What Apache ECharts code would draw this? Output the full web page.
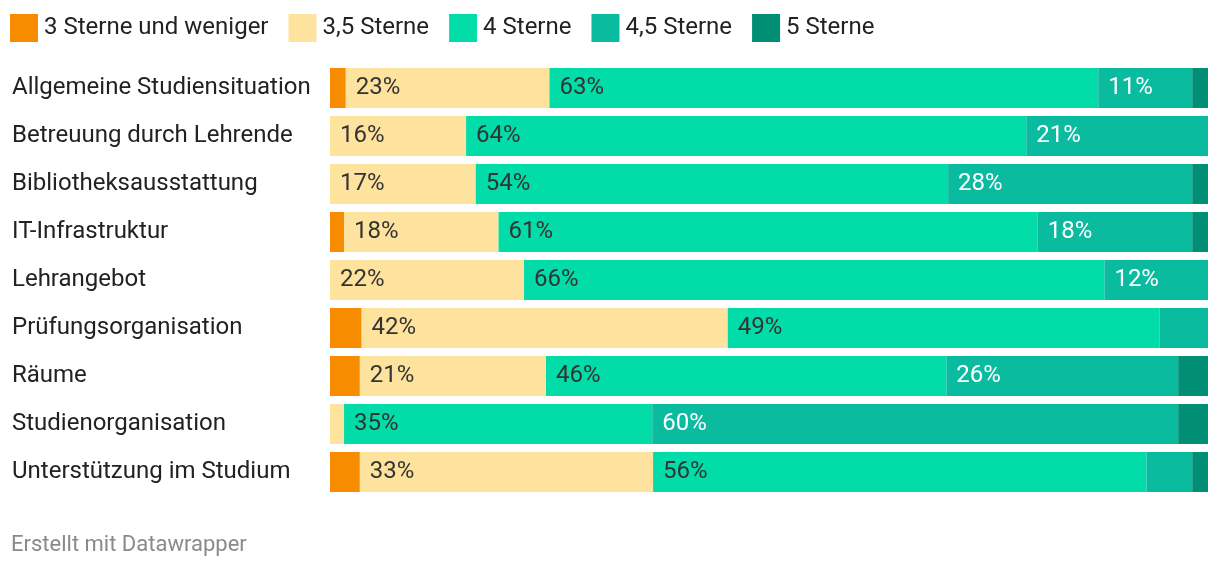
<!DOCTYPE html>
<html>
<head>
<meta charset="utf-8">
<script src="https://cdn.jsdelivr.net/npm/echarts@6/dist/echarts.min.js"></script>
<style>
  html, body { margin: 0; padding: 0; background: #ffffff; }
  #chart { width: 1220px; height: 570px; }
</style>
</head>
<body>
<div id="chart"></div>
<script>
const categories = [
  'Allgemeine Studiensituation',
  'Betreuung durch Lehrende',
  'Bibliotheksausstattung',
  'IT-Infrastruktur',
  'Lehrangebot',
  'Prüfungsorganisation',
  'Räume',
  'Studienorganisation',
  'Unterstützung im Studium'
];
const seriesNames = ['3 Sterne und weniger', '3,5 Sterne', '4 Sterne', '4,5 Sterne', '5 Sterne'];
const stars3 =  [1.8, 0,    0,    1.6,  0,    3.6,  3.4,  0,    3.4];
const stars35 = [23.2, 15.5, 16.6, 17.6, 22.1, 41.7, 21.2, 1.6,  33.4];
const stars4 =  [62.5, 63.8, 53.8, 61.4, 66.1, 49.2, 45.6, 35.1, 56.2];
const stars45 = [10.7, 20.7, 27.8, 17.6, 11.8, 5.5,  26.4, 59.9, 5.2];
const stars5 =  [1.8,  0,    1.8,  1.8,  0,    0,    3.4,  3.4,  1.8];

const values = [stars3, stars35, stars4, stars45, stars5];
const colors = ['#f78c00', '#fde39e', '#01dca9', '#0bbba0', '#008f74'];
const labelColors = ['#333333', '#333333', '#333333', '#ffffff', '#ffffff'];
const FONT = 'Roboto';

const chart = echarts.init(document.getElementById('chart'), null, { renderer: 'canvas' });

const series = seriesNames.map((name, i) => ({
  name: name,
  type: 'bar',
  stack: 'total',
  data: values[i],
  barCategoryGap: '16.7%',
  itemStyle: { color: colors[i] },
  emphasis: { disabled: true },
  label: {
    show: true,
    position: 'insideLeft',
    distance: 10,
    color: labelColors[i],
    fontFamily: FONT,
    fontSize: 24,
    padding: [3, 0, 0, 0],
    formatter: p => (p.value >= 9.5 ? Math.round(p.value) + '%' : '')
  }
}));

chart.setOption({
  animation: false,
  color: colors,
  textStyle: { fontFamily: FONT },
  legend: {
    left: 10,
    top: 14,
    padding: 0,
    icon: 'rect',
    itemWidth: 28,
    itemHeight: 28,
    itemGap: 20,
    selectedMode: false,
    textStyle: { fontFamily: FONT, fontSize: 24, color: '#222222', padding: [0, 0, 0, 1] },
    data: seriesNames
  },
  grid: { left: 330, right: 12, top: 64, height: 432 },
  xAxis: {
    type: 'value', min: 0, max: 100, show: false
  },
  yAxis: {
    type: 'category',
    data: categories,
    inverse: true,
    axisLine: { show: false },
    axisTick: { show: false },
    axisLabel: {
      align: 'left',
      margin: 318,
      color: '#222222',
      fontFamily: FONT,
      fontSize: 24,
      padding: [3, 0, 0, 0]
    }
  },
  graphic: [{
    type: 'text',
    x: 11,
    y: 545,
    style: { text: 'Erstellt mit Datawrapper', fill: '#8a8a8a', font: '22px Roboto', textVerticalAlign: 'middle' }
  }],
  series: series
});
</script>
</body>
</html>
